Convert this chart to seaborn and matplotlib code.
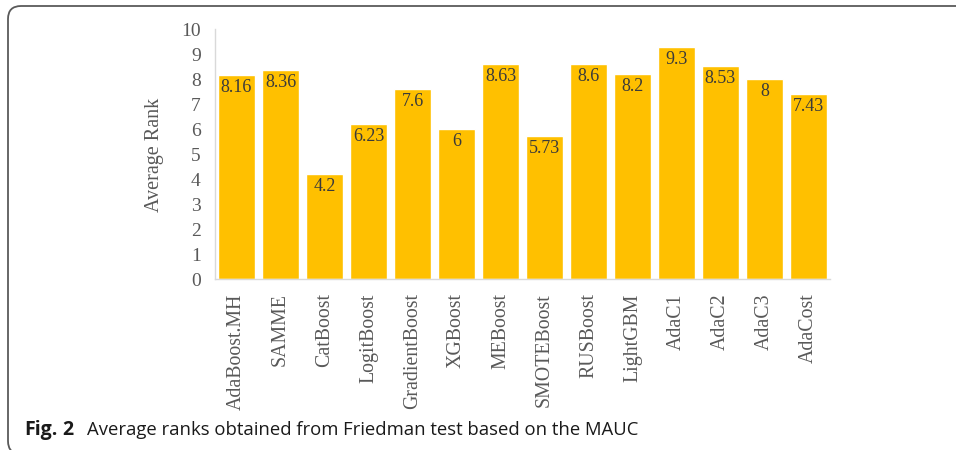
import matplotlib
matplotlib.use("Agg")
import matplotlib.pyplot as plt
from matplotlib.patches import FancyBboxPatch
import seaborn as sns
import pandas as pd

methods = ["AdaBoost.MH", "SAMME", "CatBoost", "LogitBoost", "GradientBoost",
           "XGBoost", "MEBoost", "SMOTEBoost", "RUSBoost", "LightGBM",
           "AdaC1", "AdaC2", "AdaC3", "AdaCost"]
avg_rank = [8.16, 8.36, 4.2, 6.23, 7.6, 6, 8.63, 5.73, 8.6, 8.2, 9.3, 8.53, 8, 7.43]
rank_labels = ["8.16", "8.36", "4.2", "6.23", "7.6", "6", "8.63", "5.73",
               "8.6", "8.2", "9.3", "8.53", "8", "7.43"]
y_ticks = list(range(0, 11))

sns.set_theme(style="white")
plt.rcParams["font.family"] = ["Liberation Serif", "DejaVu Serif"]

df = pd.DataFrame({"method": methods, "rank": avg_rank})

fig = plt.figure(figsize=(9.56, 4.5), dpi=100)
ax = fig.add_axes([0.2244, 0.3789, 0.6443, 0.5556])

sns.barplot(data=df, x="method", y="rank", color="#FFC000", saturation=1,
            width=0.84, ax=ax)

for i, (v, lab) in enumerate(zip(avg_rank, rank_labels)):
    ax.annotate(lab, xy=(i, v), xytext=(0, -9), textcoords="offset points",
                ha="center", va="center", fontsize=13, color="#3a3a3a")

ax.set_ylim(0, 10)
ax.set_xlim(-0.5, len(methods) - 0.5)
ax.set_yticks(y_ticks)
ax.set_yticklabels([str(t) for t in y_ticks], fontsize=14, color="#595959")
ax.set_xticks(range(len(methods)))
ax.set_xticklabels(methods, rotation=90, fontsize=14.3, color="#595959")
ax.tick_params(axis="y", length=0, pad=10)
ax.tick_params(axis="x", length=0, pad=10)
ax.set_xlabel("")
ax.set_ylabel("Average Rank", fontsize=14.5, color="#595959", labelpad=12)

for s in ["top", "right"]:
    ax.spines[s].set_visible(False)
for s in ["left", "bottom"]:
    ax.spines[s].set_color("#d9d9d9")
    ax.spines[s].set_linewidth(1.0)

# rounded frame around the figure panel
frame = FancyBboxPatch((8, -4), 980, 448,
                       boxstyle="round,pad=0,rounding_size=13",
                       transform=None, fill=False, edgecolor="#5a5a5a",
                       linewidth=1.3, clip_on=False)
fig.patches.append(frame)

cap_y = 1 - 430 / 450
cap_font = ["Open Sans", "DejaVu Sans"]
fig.text(24 / 956, cap_y, "Fig.", fontsize=14, fontweight="bold",
         family=cap_font, va="center", ha="left", color="#1a1a1a")
fig.text(62 / 956, cap_y, "2", fontsize=14, fontweight="bold",
         family=cap_font, va="center", ha="left", color="#1a1a1a")
fig.text(87 / 956, cap_y, "Average ranks obtained from Friedman test based on the MAUC",
         fontsize=13.3, family=cap_font, va="center", ha="left", color="#1a1a1a")

fig.savefig("out.png", dpi=100)
